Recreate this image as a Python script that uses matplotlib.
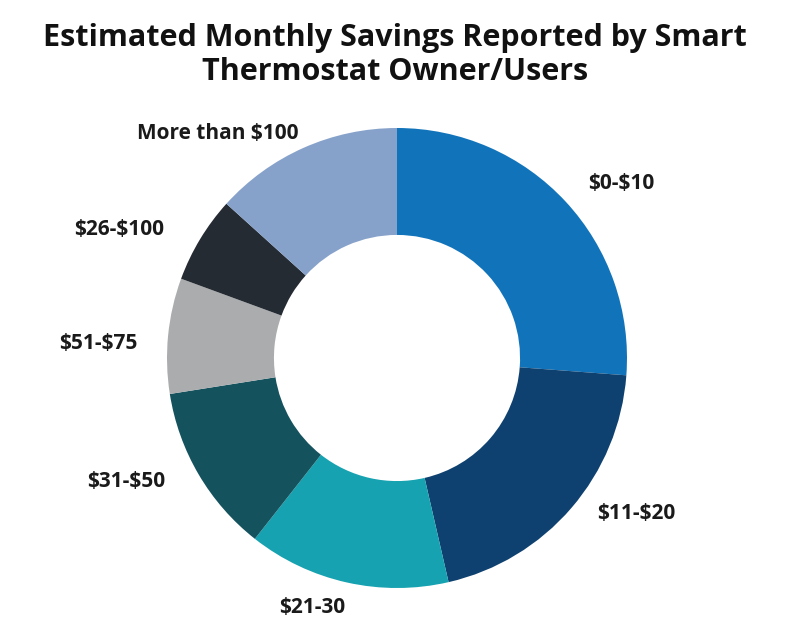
import matplotlib
matplotlib.use("Agg")
import matplotlib.pyplot as plt

plt.rcParams["text.parse_math"] = False

# data (share of respondents, %)
labels = ["$0-$10", "$11-$20", "$21-30", "$31-$50", "$51-$75", "$26-$100", "More than $100"]
shares = [26.2, 20.2, 14.2, 11.9, 8.1, 6.1, 13.3]
colors = ["#1174bb", "#0e4170", "#16a2b0", "#14525e", "#abacae", "#252b33", "#87a2ca"]

# label placement (pie radius = 1)
label_xy = [(0.976, 0.757), (1.039, -0.678), (-0.367, -1.083), (-1.176, -0.539),
            (-1.30, 0.061), (-1.209, 0.557), (-0.779, 0.974)]

fig = plt.figure(figsize=(8, 6.25), dpi=100)
fig.patch.set_facecolor("white")

lim = 300 / 230
ax = fig.add_axes([97 / 800, (267 - 300) / 625, 600 / 800, 600 / 625])
ax.pie(shares, colors=colors, startangle=90, counterclock=False, radius=1,
       wedgeprops=dict(width=0.465, edgecolor="none"))
ax.set_xlim(-lim, lim)
ax.set_ylim(-lim, lim)
ax.axis("off")

for lab, (x, y) in zip(labels, label_xy):
    ax.text(x, y, lab, ha="center", va="center", fontsize=15,
            fontweight="bold", family="Open Sans", color="#1a1a1a")

fig.text(0.494, 0.912, "Estimated Monthly Savings Reported by Smart\nThermostat Owner/Users",
         ha="center", va="center", fontsize=22, fontweight="bold",
         family="Open Sans", linespacing=1.15, color="#111111")

fig.savefig("out.png", dpi=100, facecolor="white")
